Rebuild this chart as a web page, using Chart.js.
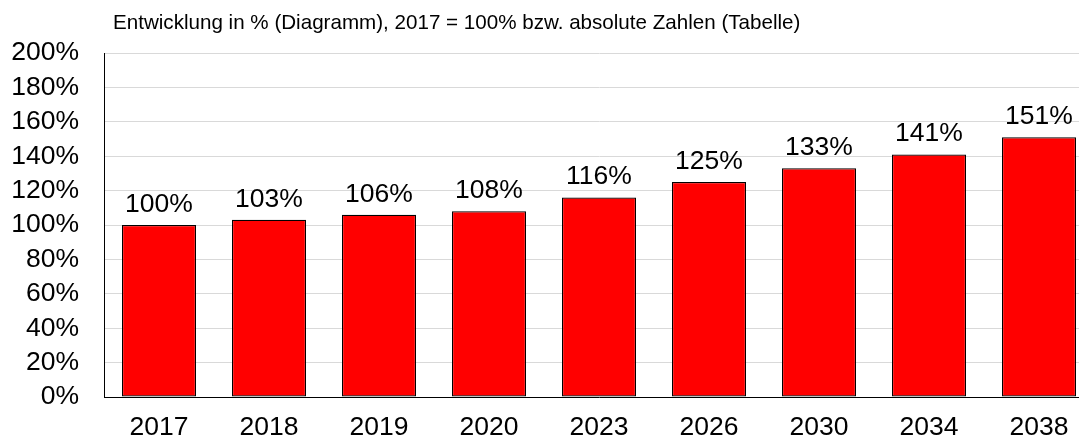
<!DOCTYPE html>
<html>
<head>
<meta charset="utf-8">
<script src="https://cdn.jsdelivr.net/npm/chart.js@4"></script>
<style>
html,body{margin:0;padding:0;overflow:hidden;background:#fff;width:1079px;height:439px;}
canvas{display:block;}
</style>
</head>
<body>
<canvas id="c" width="1094" height="439"></canvas>
<script>
const categories = ['2017','2018','2019','2020','2023','2026','2030','2034','2038'];
const values = [100, 103, 106, 108, 116, 125, 133, 141, 151];
const yTicks = [0, 20, 40, 60, 80, 100, 120, 140, 160, 180, 200];
const titleText = 'Entwicklung in % (Diagramm), 2017 = 100% bzw. absolute Zahlen (Tabelle)';

const FONT = '"Liberation Sans", Arial, Helvetica, sans-serif';

const extras = {
  id: 'extras',
  afterDatasetsDraw(chart) {
    const ctx = chart.ctx;
    ctx.save();
    ctx.fillStyle = '#000';
    ctx.font = '26.5px ' + FONT;
    ctx.textAlign = 'center';
    ctx.textBaseline = 'alphabetic';
    const meta = chart.getDatasetMeta(0);
    meta.data.forEach((bar, i) => {
      ctx.fillText(values[i] + '%', bar.x, bar.y - 13);
    });
    ctx.font = '20.6px ' + FONT;
    ctx.textAlign = 'left';
    ctx.fillText(titleText, 113, 29);
    ctx.restore();
  }
};

new Chart(document.getElementById('c'), {
  type: 'bar',
  data: {
    labels: categories,
    datasets: [{
      data: values,
      backgroundColor: '#ff0000',
      borderColor: '#000000',
      borderWidth: 1.2,
      borderSkipped: false,
      categoryPercentage: 1,
      barPercentage: 0.673
    }]
  },
  options: {
    responsive: false,
    animation: false,
    layout: { padding: { top: 53, left: 0, right: 0, bottom: 0 } },
    plugins: { legend: { display: false }, title: { display: false }, tooltip: { enabled: false } },
    scales: {
      x: {
        grid: { display: false, drawTicks: false },
        border: { display: true, color: '#000', width: 1 },
        ticks: { color: '#000', font: { size: 26.5, family: FONT }, padding: 15, maxRotation: 0, autoSkip: false },
        afterFit(scale) { scale.height = 42; }
      },
      y: {
        min: 0, max: 200,
        afterBuildTicks(scale) { scale.ticks = yTicks.map(v => ({ value: v })); },
        grid: { color: '#d9d9d9', lineWidth: 1, drawTicks: false },
        border: { display: true, color: '#000', width: 1 },
        ticks: { color: '#000', font: { size: 26.5, family: FONT }, padding: 25, autoSkip: false, callback: v => v + '%' },
        afterFit(scale) { scale.width = 104; }
      }
    }
  },
  plugins: [extras]
});
</script>
</body>
</html>
